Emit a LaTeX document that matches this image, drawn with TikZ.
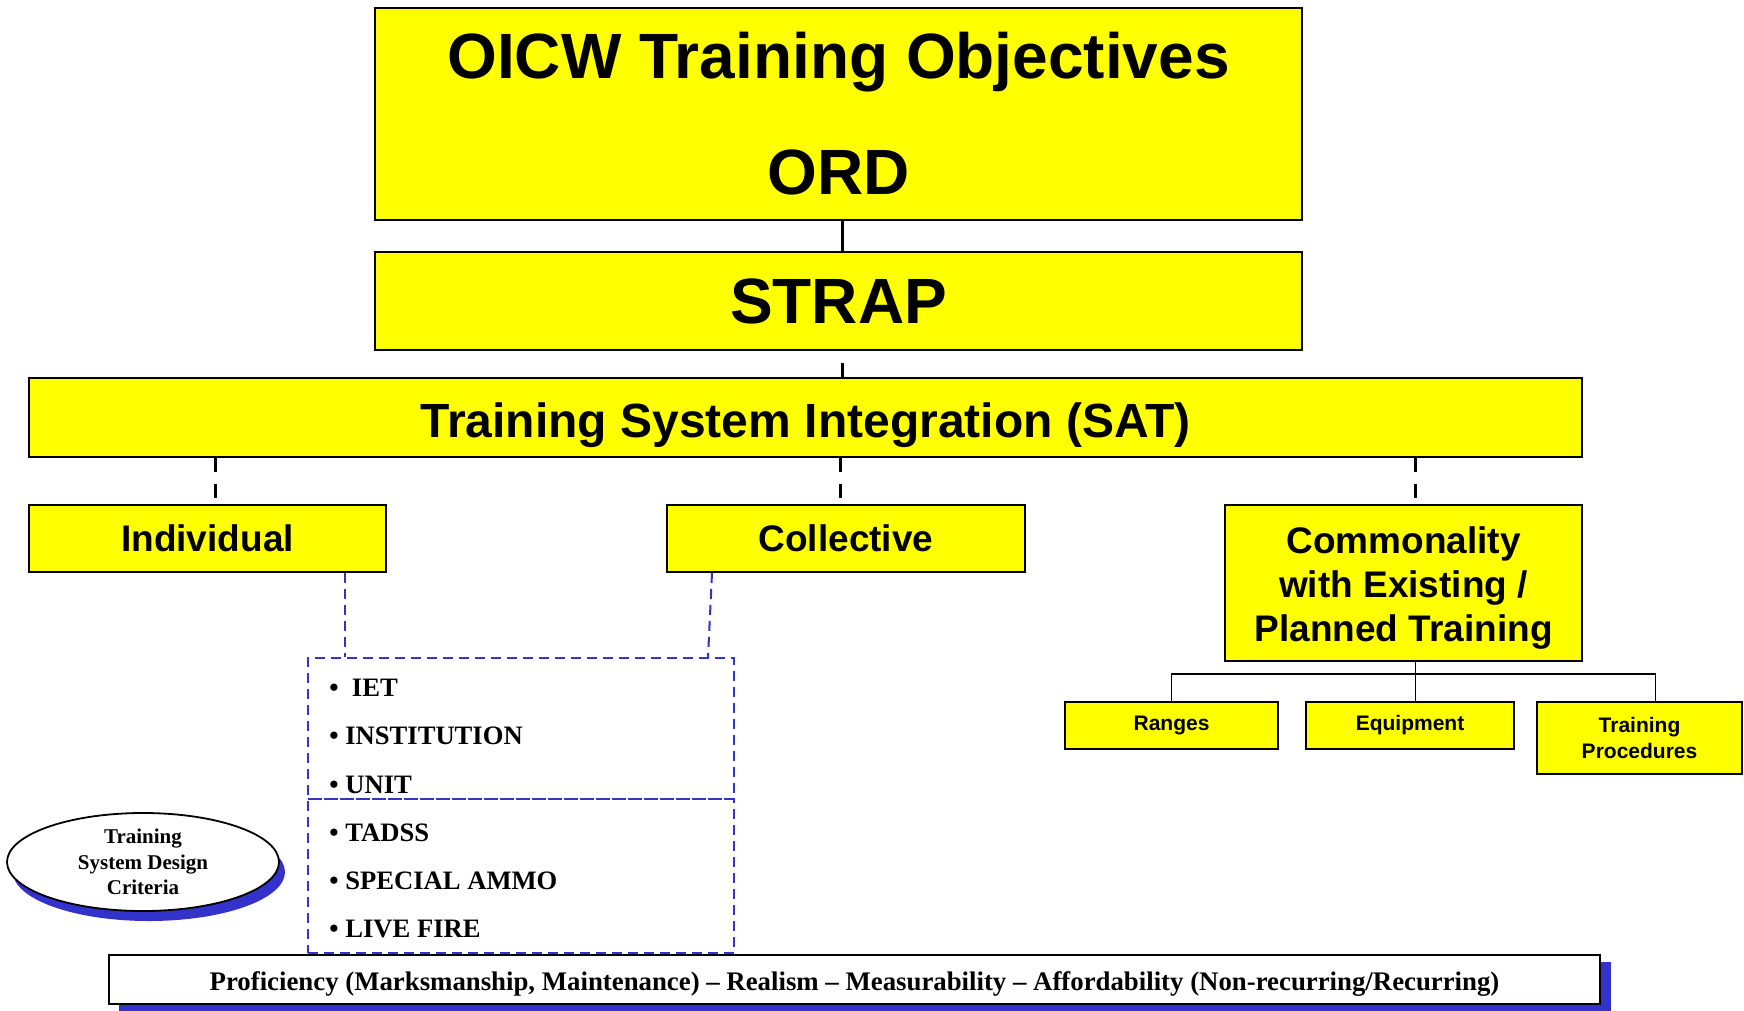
\documentclass[tikz,border=0pt]{standalone}
\usepackage{fontspec}
\setmainfont{Liberation Serif}
\setsansfont{Liberation Sans}
\usetikzlibrary{shapes.geometric}
\definecolor{boxyellow}{RGB}{255,255,0}
\definecolor{shadowblue}{RGB}{51,51,204}

\begin{document}
\begin{tikzpicture}[
  x=0.5pt, y=-0.5pt,
  block/.style={
    rectangle, draw, line width=1pt, fill=boxyellow,
    align=center, inner sep=0pt
  },
  bigblock/.style={block, font=\sffamily\bfseries\fontsize{32}{38}\selectfont},
  midblock/.style={block, minimum height=33.5pt,
    font=\sffamily\bfseries\fontsize{18.5}{22}\selectfont},
  smallblock/.style={block, line width=0.8pt,
    font=\sffamily\bfseries\fontsize{10.5}{12.8}\selectfont},
  link/.style={line width=1.5pt},
  dlink/.style={link, dash pattern=on 7pt off 6pt},
  tree/.style={line width=0.8pt},
  blink/.style={draw=shadowblue, line width=1pt, dash pattern=on 5pt off 3pt},
  listbox/.style={rectangle, blink, minimum width=213pt, inner sep=0pt},
  entry/.style={anchor=base west, inner sep=0pt,
    font=\bfseries\fontsize{13.3}{16}\selectfont},
]
\useasboundingbox (0,0) rectangle (1744,1011);

% ---- Top of the hierarchy ----
\node[bigblock, minimum width=463.5pt, minimum height=106pt] (objectives)
  at (838.5,114) {OICW Training Objectives\\[20pt]ORD};
\node[bigblock, minimum width=463.5pt, minimum height=49pt] (strap)
  at (838.5,301) {STRAP};
\node[block, minimum width=776.5pt, minimum height=39.5pt,
  text height=20pt, text depth=0pt,
  font=\sffamily\bfseries\fontsize{24}{28}\selectfont] (sat)
  at (805.5,417.5) {Training System Integration (SAT)};

\draw[link] ([xshift=2pt]objectives.south) -- ([xshift=2pt]strap.north);
\draw[dlink, dash phase=7pt] ([xshift=2pt]strap.south)
  -- ([xshift=2pt]strap.south |- sat.north);

% ---- Second level ----
\node[midblock, minimum width=178.5pt] (indiv) at (207.5,538.5) {Individual};
\node[midblock, minimum width=179pt] (coll) at (846,538.5) {Collective};
\node[midblock, minimum width=178.5pt, minimum height=78pt] (common)
  at (1403.5,583) {\rule{0pt}{18pt}Commonality\\with Existing /\\Planned Training};

\draw[dlink] ([xshift=4pt]indiv.north |- sat.south) -- ([xshift=4pt]indiv.north);
\draw[dlink] ([xshift=-3pt]coll.north |- sat.south) -- ([xshift=-3pt]coll.north);
\draw[dlink] ([xshift=6pt]common.north |- sat.south) -- ([xshift=6pt]common.north);

% ---- Commonality branches ----
\node[smallblock, minimum width=106.5pt, minimum height=23.5pt] (ranges)
  at (1171.5,725.5) {Ranges};
\node[smallblock, minimum width=104pt, minimum height=23.5pt] (equip)
  at (1410,725.5) {Equipment};
\node[smallblock, minimum width=102.5pt, minimum height=36pt] (procs)
  at (1639.5,738) {Training\\Procedures};

\draw[tree] ([xshift=6pt]common.south) -- ([xshift=6pt]common.south |- equip.north);
\draw[tree] (ranges.north) -- ++(0,-27) -| ([xshift=8pt]procs.north);

% ---- Design criteria list ----
\node[listbox, minimum height=70.5pt] (upper) at (521,728.5) {};
\node[listbox, minimum height=77pt] (lower) at (521,876) {};

\draw[blink] ([xshift=68.5pt]indiv.south) -- ([xshift=68.5pt]indiv.south |- upper.north);
\draw[blink] ([xshift=-67pt]coll.south) -- ([xshift=-69pt]coll.south |- upper.north);

\node[entry] (iet) at (329,696) {\textbullet\ \ IET};
\node[entry] (inst) at (329,744) {\textbullet\ INSTITUTION};
\node[entry] (unit) at (329,793) {\textbullet\ UNIT};
\node[entry] (tadss) at (329,841) {\textbullet\ TADSS};
\node[entry] (ammo) at (329,889) {\textbullet\ SPECIAL AMMO};
\node[entry] (fire) at (329,937) {\textbullet\ LIVE FIRE};

% ---- Criteria ellipse ----
\fill[shadowblue] (149,872) ellipse [x radius=136, y radius=49];
\node[ellipse, draw, line width=0.9pt, fill=white, minimum width=136pt,
  minimum height=49pt, inner sep=0pt, align=center,
  font=\bfseries\fontsize{10.5}{12.8}\selectfont] (design)
  at (143,862) {Training\\System Design\\Criteria};

% ---- Bottom banner ----
\fill[shadowblue] (119,962) rectangle (1611,1011);
\node[rectangle, draw, line width=1pt, fill=white, minimum width=745.5pt,
  minimum height=24.5pt, inner sep=0pt, text height=10.5pt, text depth=0pt,
  font=\bfseries\fontsize{13.4}{15}\selectfont] (goals)
  at (854.5,979.5)
  {Proficiency (Marksmanship, Maintenance) -- Realism -- Measurability -- Affordability (Non-recurring/Recurring)};

\end{tikzpicture}
\end{document}
